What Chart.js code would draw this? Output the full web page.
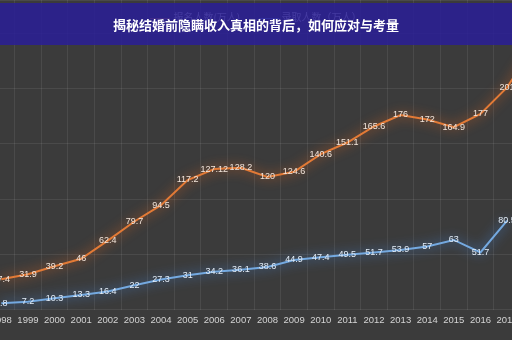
<!DOCTYPE html>
<html>
<head>
<meta charset="utf-8">
<script src="https://cdn.jsdelivr.net/npm/chart.js@4/dist/chart.umd.min.js"></script>
<style>
  html, body { margin: 0; padding: 0; }
  body { width: 512px; height: 340px; overflow: hidden; position: relative; background: #3b3b3b; }
  #chart { position: absolute; left: -40px; top: 0; }
  .legend { position: absolute; top: 9px; left: 0; width: 512px; text-align: center; font: 10px "Noto Sans CJK SC", sans-serif; color: #e0e0e0; }
  .legend span { margin: 0 8px; }
  .legend i { display: inline-block; width: 20px; height: 0; border-top: 1px solid; vertical-align: middle; margin-right: 3px; }
  .banner { position: absolute; top: 3px; left: 0; width: 512px; height: 42px; background: rgba(42, 30, 150, 0.86); }
  .banner h1 { margin: 0; font: bold 13px "Noto Sans CJK SC", sans-serif; line-height: 44px; text-align: center; color: #fff; }
</style>
</head>
<body>
<canvas id="chart" width="612" height="340"></canvas>
<div class="legend">
  <span><i style="color:#d2763a"></i>报名人数(万人)</span>
  <span><i style="color:#6a9fd6"></i>录取人数（万人）</span>
</div>
<div class="banner"><h1>揭秘结婚前隐瞒收入真相的背后，如何应对与考量</h1></div>
<script>
const years = ['1998', '1999', '2000', '2001', '2002', '2003', '2004', '2005', '2006', '2007',
  '2008', '2009', '2010', '2011', '2012', '2013', '2014', '2015', '2016', '2017', '2018'];
const applicants = [27.4, 31.9, 39.2, 46, 62.4, 79.7, 94.5, 117.2, 127.12, 128.2,
  120, 124.6, 140.6, 151.1, 165.6, 176, 172, 164.9, 177, 201, 238];
const admitted = [5.8, 7.2, 10.3, 13.3, 16.4, 22, 27.3, 31, 34.2, 36.1,
  38.6, 44.9, 47.4, 49.5, 51.7, 53.9, 57, 63, 51.7, 80.5, null];

const glow = {
  id: 'glow',
  beforeDatasetDraw(chart, args) {
    const ds = chart.data.datasets[args.index];
    chart.ctx.save();
    chart.ctx.shadowColor = ds.glowColor;
    chart.ctx.shadowBlur = 12;
  },
  afterDatasetDraw(chart) {
    chart.ctx.restore();
  },
};

const valueLabels = {
  id: 'valueLabels',
  afterDatasetsDraw(chart) {
    const ctx = chart.ctx;
    ctx.save();
    ctx.font = '9px "Liberation Sans", Arial, sans-serif';
    ctx.textAlign = 'center';
    ctx.textBaseline = 'middle';
    chart.data.datasets.forEach((ds, i) => {
      const meta = chart.getDatasetMeta(i);
      meta.data.forEach((pt, j) => {
        const v = ds.data[j];
        if (v === null) return;
        ctx.fillStyle = ds.labelColor;
        ctx.fillText(String(v), pt.x, pt.y);
      });
    });
    ctx.restore();
  },
};

new Chart(document.getElementById('chart').getContext('2d'), {
  type: 'line',
  data: {
    labels: years,
    datasets: [
      {
        label: '报名人数(万人)',
        data: applicants,
        borderColor: '#e27a36',
        glowColor: 'rgba(235, 105, 30, 1)',
        labelColor: '#f3e6dc',
        borderWidth: 2,
        pointRadius: 0,
        tension: 0,
      },
      {
        label: '录取人数（万人）',
        data: admitted,
        borderColor: '#74a9e0',
        glowColor: 'rgba(70, 140, 230, 1)',
        labelColor: '#e3edf8',
        borderWidth: 2,
        pointRadius: 0,
        tension: 0,
      },
    ],
  },
  options: {
    responsive: false,
    animation: false,
    layout: { padding: { left: 28, right: 25, top: 0, bottom: 9 } },
    plugins: {
      legend: { display: false },
      tooltip: { enabled: false },
    },
    scales: {
      x: {
        offset: true,
        grid: { color: 'rgba(255,255,255,0.08)', drawTicks: false, offset: true },
        border: { display: false },
        ticks: {
          color: '#d4d4d4',
          padding: 5,
          maxRotation: 0,
          autoSkip: false,
          font: { size: 9.5, family: '"Liberation Sans", Arial, sans-serif' },
        },
      },
      y: {
        min: 0,
        max: 280,
        grid: { color: 'rgba(255,255,255,0.08)', drawTicks: false },
        border: { display: false },
        ticks: { display: false, stepSize: 50 },
      },
    },
  },
  plugins: [glow, valueLabels],
});
</script>
</body>
</html>
